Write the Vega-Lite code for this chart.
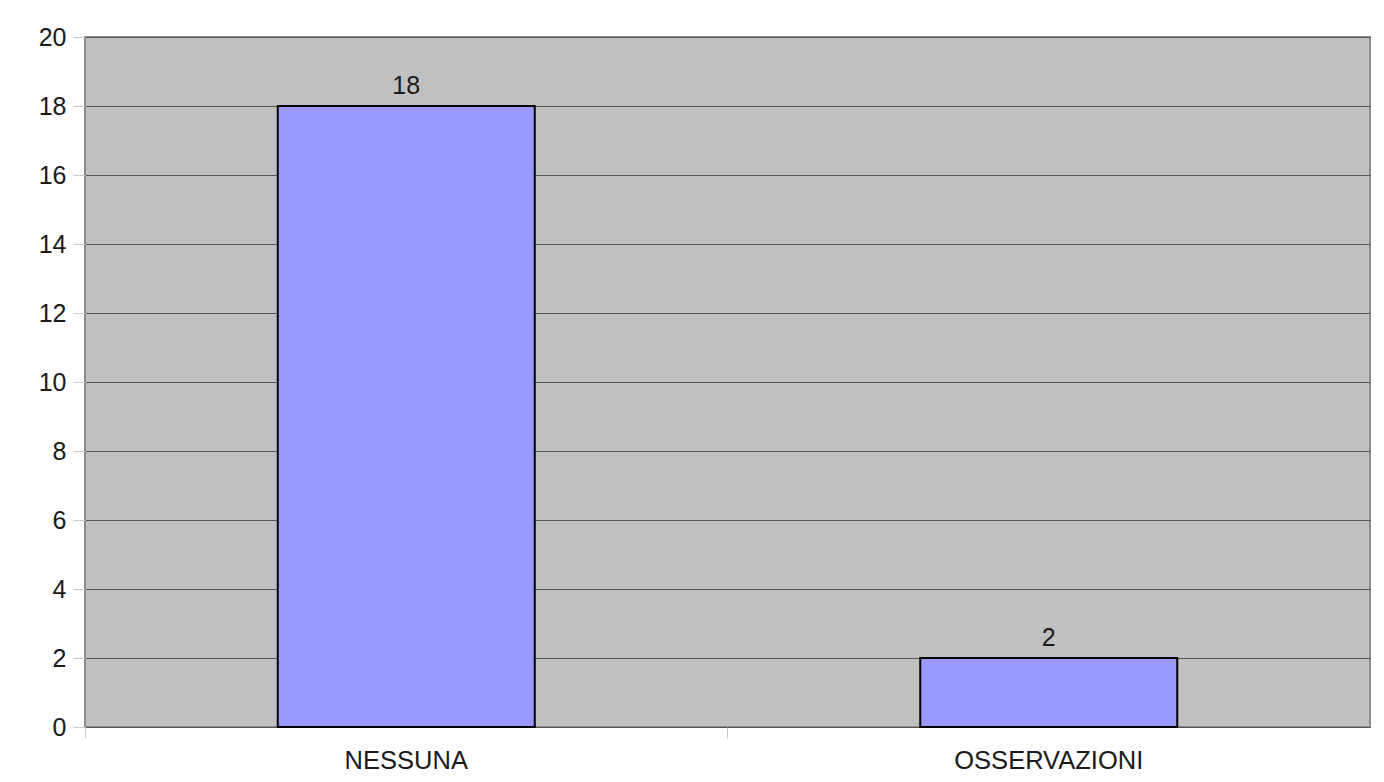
{
  "$schema": "https://vega.github.io/schema/vega-lite/v6.json",
  "width": 1285,
  "height": 690,
  "autosize": {"type": "none"},
  "padding": {"left": 85, "top": 37, "right": 14, "bottom": 55},
  "background": "white",
  "config": {
    "font": "Liberation Sans",
    "view": {"fill": "#c0c0c0", "stroke": "#8c8c8c", "strokeWidth": 2}
  },
  "data": {
    "values": [
      {"categoria": "NESSUNA", "valore": 18},
      {"categoria": "OSSERVAZIONI", "valore": 2}
    ]
  },
  "encoding": {
    "x": {
      "field": "categoria",
      "type": "nominal",
      "sort": null,
      "scale": {"paddingInner": 0, "paddingOuter": 0},
      "axis": {
        "title": null,
        "labelAngle": 0,
        "labelFontSize": 25.5,
        "labelColor": "#1a1a1a",
        "labelPadding": 10,
        "labelLimit": 0,
        "domain": false,
        "ticks": true,
        "tickColor": "#cccccc",
        "tickSize": 11,
        "bandPosition": 0,
        "grid": false
      }
    },
    "y": {
      "field": "valore",
      "type": "quantitative",
      "scale": {"domain": [0, 20], "nice": false},
      "axis": {
        "title": null,
        "values": [0, 2, 4, 6, 8, 10, 12, 14, 16, 18, 20],
        "tickColor": "#cccccc",
        "tickSize": 12,
        "grid": true,
        "gridColor": "#555555",
        "gridWidth": 1,
        "gridOpacity": 1,
        "labelFontSize": 25,
        "labelColor": "#1a1a1a",
        "labelPadding": 7,
        "domain": false
      }
    }
  },
  "layer": [
    {
      "mark": {
        "type": "bar",
        "fill": "#9999ff",
        "stroke": "#000000",
        "strokeWidth": 2,
        "width": {"band": 0.4}
      }
    },
    {
      "mark": {"type": "text", "dy": -20, "fontSize": 25, "color": "#1a1a1a"},
      "encoding": {"text": {"field": "valore", "type": "quantitative"}}
    }
  ]
}
